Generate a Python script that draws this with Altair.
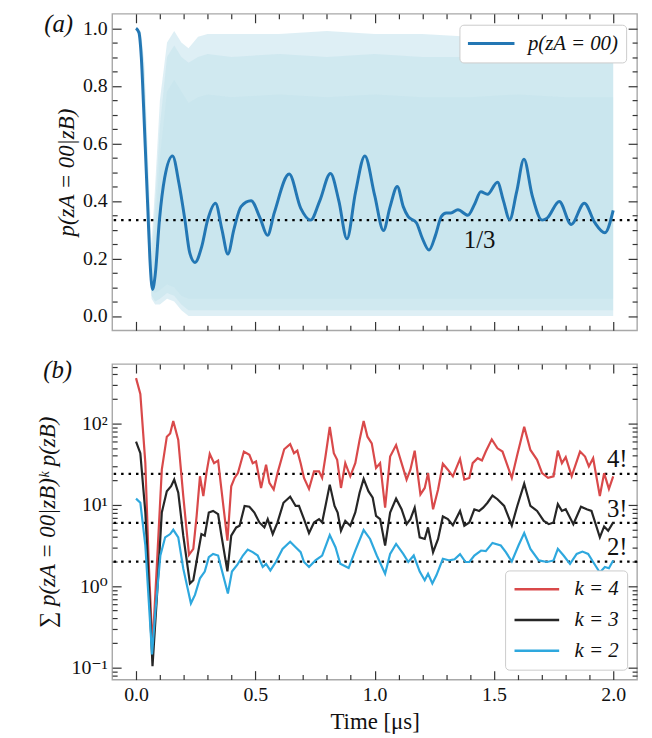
import altair as alt
import pandas as pd

FONT = "'Liberation Serif', 'DejaVu Serif', serif"
TICK = "#333333"

# ---------------- panel (a) ----------------
mean_t = [0.000, 0.012, 0.022, 0.032, 0.042, 0.050, 0.058, 0.069, 0.080, 0.098, 0.120, 0.153, 0.180, 0.205,
          0.225, 0.247, 0.275, 0.300, 0.333, 0.360, 0.385, 0.410, 0.440, 0.482, 0.520, 0.551, 0.580, 0.642,
          0.690, 0.732, 0.770, 0.815, 0.850, 0.884, 0.920, 0.959, 1.000, 1.037, 1.065, 1.095, 1.120, 1.140,
          1.175, 1.200, 1.228, 1.255, 1.280, 1.300, 1.320, 1.349, 1.391, 1.420, 1.445, 1.473, 1.515, 1.540,
          1.566, 1.595, 1.626, 1.660, 1.702, 1.723, 1.774, 1.824, 1.879, 1.923, 1.965, 2.000]
mean_p = [1.000, 0.985, 0.90, 0.72, 0.52, 0.36, 0.20, 0.092, 0.14, 0.333, 0.48, 0.556, 0.46, 0.333,
          0.22, 0.186, 0.24, 0.333, 0.392, 0.30, 0.215, 0.30, 0.38, 0.400, 0.34, 0.280, 0.36, 0.493,
          0.375, 0.333, 0.40, 0.495, 0.40, 0.268, 0.43, 0.556, 0.42, 0.297, 0.38, 0.450, 0.38, 0.346,
          0.324, 0.27, 0.229, 0.28, 0.346, 0.358, 0.358, 0.369, 0.350, 0.39, 0.432, 0.423, 0.465, 0.40,
          0.335, 0.43, 0.545, 0.42, 0.333, 0.340, 0.398, 0.318, 0.392, 0.324, 0.289, 0.367]

# envelopes of the individual trajectories (light-blue cloud), outer -> inner
band_t = [0.00, 0.02, 0.035, 0.05, 0.065, 0.08, 0.10, 0.13, 0.16, 0.19, 0.22, 0.26, 0.30, 0.40, 0.60,
          0.80, 1.00, 1.20, 1.40, 1.60, 1.80, 2.00]
outer_hi = [1.00, 0.99, 0.88, 0.55, 0.25, 0.45, 0.75, 0.95, 0.99, 0.95, 0.93, 0.97, 0.98, 0.98, 0.98,
            0.99, 0.98, 0.98, 0.97, 0.98, 0.98, 0.98]
outer_lo = [1.00, 0.96, 0.65, 0.25, 0.06, 0.04, 0.04, 0.06, 0.05, 0.02, 0.00, 0.00, 0.00, 0.00, 0.00,
            0.00, 0.00, 0.00, 0.00, 0.00, 0.00, 0.00]
mid_hi = [1.00, 0.985, 0.85, 0.50, 0.21, 0.38, 0.66, 0.90, 0.94, 0.90, 0.88, 0.90, 0.91, 0.90, 0.91,
          0.90, 0.91, 0.90, 0.90, 0.91, 0.90, 0.90]
mid_lo = [1.00, 0.965, 0.68, 0.28, 0.07, 0.05, 0.06, 0.08, 0.07, 0.04, 0.02, 0.02, 0.02, 0.02, 0.02,
          0.02, 0.02, 0.02, 0.02, 0.02, 0.02, 0.02]
inner_hi = [1.00, 0.98, 0.80, 0.42, 0.16, 0.30, 0.55, 0.78, 0.82, 0.78, 0.74, 0.76, 0.77, 0.76, 0.77,
            0.76, 0.77, 0.76, 0.76, 0.77, 0.76, 0.76]
inner_lo = [1.00, 0.97, 0.72, 0.32, 0.09, 0.08, 0.09, 0.11, 0.10, 0.07, 0.06, 0.06, 0.06, 0.06, 0.06,
            0.06, 0.06, 0.06, 0.06, 0.06, 0.06, 0.06]

uniform_level = [0.3333]
uniform_label = ["1/3"]
uniform_label_pos = [1.44, 0.264]

# ---------------- panel (b) ----------------
k4_t = [0.000, 0.018, 0.039, 0.053, 0.069, 0.088, 0.108, 0.129, 0.143, 0.156, 0.177, 0.198, 0.222, 0.240,
        0.254, 0.268, 0.282, 0.295, 0.309, 0.327, 0.344, 0.358, 0.383, 0.399, 0.413, 0.427, 0.452, 0.475,
        0.489, 0.503, 0.524, 0.545, 0.559, 0.577, 0.593, 0.621, 0.646, 0.662, 0.676, 0.690, 0.704, 0.725,
        0.746, 0.767, 0.780, 0.794, 0.812, 0.829, 0.843, 0.859, 0.877, 0.898, 0.919, 0.937, 0.954, 0.970,
        0.988, 1.006, 1.023, 1.044, 1.065, 1.090, 1.113, 1.134, 1.150, 1.168, 1.192, 1.210, 1.224, 1.245,
        1.266, 1.286, 1.307, 1.328, 1.358, 1.376, 1.397, 1.411, 1.432, 1.450, 1.466, 1.491, 1.515, 1.536,
        1.575, 1.598, 1.627, 1.653, 1.681, 1.702, 1.727, 1.750, 1.768, 1.785, 1.801, 1.826, 1.861, 1.882,
        1.898, 1.916, 1.944, 1.962, 1.982, 2.000]
k4_v = [361, 231, 32.5, 1.98, 0.174, 1.98, 27.0, 68.7, 75.3, 107, 62.5, 12.8, 2.43, 2.87,
        7.31, 22.4, 12.8, 24.5, 42.2, 32.5, 35.0, 15.4, 3.62, 16.9, 21.4, 24.5, 45.1, 41.1,
        32.5, 34.1, 16.1, 31.0, 18.6, 15.4, 24.5, 48.1, 55.8, 43.1, 46.3, 32.5, 21.4, 15.7,
        25.8, 25.8, 21.4, 39.2, 90.8, 43.1, 35.7, 16.1, 32.5, 22.4, 32.5, 62.5, 107, 68.7,
        56.9, 28.3, 32.5, 9.23, 39.2, 54.3, 32.5, 20.4, 27.0, 46.3, 13.4, 16.1, 24.5, 8.79,
        15.4, 31.9, 27.0, 22.4, 36.7, 20.4, 21.4, 32.5, 37.4, 35.0, 45.1, 63.7, 49.5, 45.1,
        21.4, 41.1, 90.8, 47.2, 35.7, 24.5, 21.4, 22.4, 46.3, 32.5, 38.5, 22.4, 45.1, 39.2,
        29.6, 37.4, 12.8, 24.5, 15.7, 22.4]

k3_t = [0.000, 0.018, 0.039, 0.056, 0.069, 0.088, 0.108, 0.129, 0.147, 0.160, 0.177, 0.198, 0.226, 0.240,
        0.258, 0.274, 0.288, 0.305, 0.323, 0.344, 0.358, 0.383, 0.399, 0.420, 0.434, 0.455, 0.475, 0.496,
        0.517, 0.538, 0.552, 0.573, 0.593, 0.618, 0.646, 0.669, 0.683, 0.704, 0.725, 0.746, 0.767, 0.780,
        0.794, 0.812, 0.832, 0.845, 0.859, 0.877, 0.898, 0.919, 0.937, 0.954, 0.974, 0.992, 1.006, 1.023,
        1.044, 1.065, 1.090, 1.113, 1.134, 1.150, 1.168, 1.189, 1.210, 1.224, 1.245, 1.266, 1.286, 1.307,
        1.328, 1.358, 1.376, 1.397, 1.418, 1.438, 1.455, 1.473, 1.494, 1.515, 1.543, 1.575, 1.598, 1.627,
        1.653, 1.681, 1.709, 1.730, 1.750, 1.768, 1.785, 1.801, 1.833, 1.865, 1.889, 1.909, 1.944, 1.962,
        1.979, 2.000]
k3_v = [59.7, 43.1, 8.04, 0.78, 0.104, 0.78, 8.04, 14.7, 16.9, 20.4, 14.1, 4.17, 1.08, 1.18,
        2.38, 4.37, 4.17, 8.04, 8.41, 7.66, 4.17, 1.52, 4.17, 5.27, 5.52, 9.68, 9.48, 8.04,
        6.07, 5.27, 6.67, 4.37, 6.07, 10.6, 12.6, 9.68, 9.68, 6.67, 4.49, 6.07, 6.67, 6.07,
        9.68, 17.7, 9.68, 8.04, 4.80, 6.35, 5.52, 8.04, 14.1, 20.8, 14.7, 12.2, 7.31, 6.67,
        3.16, 8.04, 11.9, 8.81, 5.78, 6.67, 9.23, 3.98, 3.80, 5.27, 2.61, 3.80, 7.18, 6.67,
        5.62, 8.41, 5.52, 6.07, 8.81, 8.41, 9.23, 10.6, 13.0, 11.7, 9.68, 5.57, 9.68, 18.2,
        9.68, 8.41, 6.35, 5.78, 6.07, 10.2, 8.41, 8.81, 5.78, 9.48, 8.81, 8.41, 3.98, 5.42,
        4.80, 6.07]

k2_t = [0.000, 0.018, 0.039, 0.056, 0.067, 0.081, 0.102, 0.122, 0.143, 0.156, 0.177, 0.198, 0.230, 0.247,
        0.268, 0.288, 0.305, 0.323, 0.344, 0.358, 0.385, 0.402, 0.424, 0.448, 0.468, 0.489, 0.510, 0.531,
        0.545, 0.563, 0.586, 0.614, 0.646, 0.669, 0.690, 0.704, 0.725, 0.752, 0.780, 0.812, 0.836, 0.856,
        0.891, 0.919, 0.954, 0.981, 1.009, 1.044, 1.065, 1.090, 1.120, 1.141, 1.164, 1.189, 1.210, 1.224,
        1.242, 1.259, 1.286, 1.314, 1.335, 1.358, 1.381, 1.397, 1.418, 1.446, 1.466, 1.494, 1.529, 1.550,
        1.575, 1.603, 1.627, 1.653, 1.688, 1.723, 1.750, 1.768, 1.792, 1.819, 1.847, 1.871, 1.895, 1.916,
        1.944, 1.965, 1.982, 2.000]
k2_v = [11.9, 10.6, 3.16, 0.49, 0.145, 0.49, 2.38, 3.98, 4.37, 4.93, 3.98, 1.64, 0.615, 0.78,
        1.25, 1.51, 2.27, 2.49, 2.38, 1.64, 0.81, 1.51, 1.82, 2.38, 2.82, 2.62, 2.38, 1.72,
        1.88, 1.56, 1.98, 2.87, 3.52, 3.01, 2.62, 1.98, 1.72, 2.07, 2.38, 4.25, 3.01, 1.88,
        1.67, 2.74, 4.89, 3.80, 2.38, 1.42, 2.49, 3.30, 2.49, 1.98, 2.38, 1.51, 1.18, 1.42,
        1.08, 1.36, 2.17, 2.07, 2.14, 2.47, 1.98, 1.98, 2.38, 2.74, 2.69, 3.40, 3.16, 2.62,
        2.01, 3.16, 4.50, 2.87, 2.07, 1.98, 2.07, 2.87, 2.38, 1.88, 2.49, 2.66, 2.49, 1.98,
        1.47, 1.72, 1.66, 2.07]

factorial_levels = [24, 6, 2]
factorial_labels = ["4!", "3!", "2!"]
factorial_label_t = 2.017
factorial_label_v = [36.4, 8.97, 3.01]

series_names = ["k = 4", "k = 3", "k = 2"]
series_colors = ["#d9494a", "#262626", "#2ea8de"]
panel_labels = ["(a)", "(b)"]

x_major = [0.0, 0.5, 1.0, 1.5, 2.0]
x_minor = [0.1, 0.2, 0.3, 0.4, 0.6, 0.7, 0.8, 0.9, 1.1, 1.2, 1.3, 1.4, 1.6, 1.7, 1.8, 1.9]
ya_major = [0.0, 0.2, 0.4, 0.6, 0.8, 1.0]
ya_minor = [0.05, 0.1, 0.15, 0.25, 0.3, 0.35, 0.45, 0.5, 0.55, 0.65, 0.7, 0.75, 0.85, 0.9, 0.95]
yb_major = [0.1, 1, 10, 100]
yb_minor = [0.08, 0.09, 0.2, 0.3, 0.4, 0.5, 0.6, 0.7, 0.8, 0.9, 2, 3, 4, 5, 6, 7, 8, 9,
            20, 30, 40, 50, 60, 70, 80, 90, 200, 300, 400, 500]

# ---------------- tables ----------------
band_df = pd.DataFrame({"t": band_t, "lo": outer_lo, "hi": outer_hi, "mlo": mid_lo, "mhi": mid_hi,
                        "ilo": inner_lo, "ihi": inner_hi})
mean_df = pd.DataFrame({"t": mean_t, "p": mean_p, "s": "p(zA = 00)"})
third_df = pd.DataFrame({"v": uniform_level})
third_lab = pd.DataFrame({"t": [uniform_label_pos[0]], "p": [uniform_label_pos[1]], "lab": uniform_label})
lines_df = pd.concat([
    pd.DataFrame({"t": k4_t, "v": k4_v, "k": series_names[0]}),
    pd.DataFrame({"t": k3_t, "v": k3_v, "k": series_names[1]}),
    pd.DataFrame({"t": k2_t, "v": k2_v, "k": series_names[2]}),
])
fact_df = pd.DataFrame({"v": factorial_levels})
fact_lab = pd.DataFrame({"t": [factorial_label_t] * 3, "v": factorial_label_v, "lab": factorial_labels})
pa_df = pd.DataFrame({"lab": [panel_labels[0]]})
pb_df = pd.DataFrame({"lab": [panel_labels[1]]})

xs = alt.Scale(domain=[-0.1, 2.1], nice=False, zero=False)
ya = alt.Scale(domain=[-0.05, 1.05], nice=False, zero=False)
yb = alt.Scale(type="log", domain=[0.071, 537], nice=False)


def axis(orient, values, major=True, labels=False, **kw):
    size = 9 if major else 5
    base = dict(orient=orient, values=values, tickSize=size, offset=-size, domain=False, grid=False,
                ticks=True, labels=labels, tickColor=TICK, tickWidth=1.2, labelFlush=False)
    if labels:
        base.update(labelPadding=5, labelFont=FONT, labelFontSize=20, labelColor="#111111")
    base.update(kw)
    return alt.Axis(**base)


W, HA, HB = 529, 319, 318
BAND = "#a9d6e5"

# ---------------- panel (a) chart ----------------
outer = alt.Chart(band_df).mark_area(color=BAND, opacity=0.38).encode(
    x=alt.X("t:Q", scale=xs, title=None, axis=axis("bottom", x_major)),
    y=alt.Y("lo:Q", scale=ya, title="p(zA = 00|zB)",
            axis=axis("left", ya_major, labels=True, format=".1f", titleFont=FONT, titleFontSize=23,
                      titleFontStyle="italic", titleFontWeight="normal", titleColor="#111111",
                      titlePadding=4)),
    y2="hi:Q",
)
middle = alt.Chart(band_df).mark_area(color=BAND, opacity=0.25).encode(
    x=alt.X("t:Q", scale=xs, title=None, axis=axis("bottom", x_minor, major=False)),
    y=alt.Y("mlo:Q", scale=ya, title=None, axis=axis("left", ya_minor, major=False)),
    y2="mhi:Q",
)
inner = alt.Chart(band_df).mark_area(color=BAND, opacity=0.15).encode(
    x=alt.X("t:Q", scale=xs, axis=None),
    y=alt.Y("ilo:Q", scale=ya, axis=None),
    y2="ihi:Q",
)
third = alt.Chart(third_df).mark_rule(color="black", strokeDash=[2.5, 5], strokeWidth=2.3).encode(
    y=alt.Y("v:Q", scale=ya, title=None, axis=axis("right", ya_minor, major=False)),
)
mean_line = alt.Chart(mean_df).mark_line(strokeWidth=3, interpolate="monotone").encode(
    x=alt.X("t:Q", scale=xs, title=None, axis=axis("top", x_major)),
    y=alt.Y("p:Q", scale=ya, title=None, axis=axis("right", ya_major)),
    color=alt.Color("s:N", scale=alt.Scale(domain=["p(zA = 00)"], range=["#2377b4"]),
                    legend=alt.Legend(title=None, orient="top-right", offset=11, fillColor="white",
                                      strokeColor="#cccccc", cornerRadius=4, padding=7,
                                      symbolType="stroke", symbolStrokeWidth=3, symbolSize=2200,
                                      clipHeight=24, labelFont=FONT, labelFontSize=21,
                                      labelFontStyle="italic", labelOffset=12, labelColor="#111111")),
)
third_text = alt.Chart(third_lab).mark_text(font=FONT, fontSize=25, color="#111111").encode(
    x=alt.X("t:Q", scale=xs, title=None, axis=axis("top", x_minor, major=False)),
    y=alt.Y("p:Q", scale=ya, axis=None),
    text="lab:N",
)
label_a = alt.Chart(pa_df).mark_text(font=FONT, fontSize=25, fontStyle="italic", color="#111111").encode(
    x=alt.value(-54), y=alt.value(10), text="lab:N"
)
top = alt.layer(outer, middle, inner, third, mean_line, third_text, label_a).resolve_axis(
    x="independent", y="independent"
).properties(width=W, height=HA)

# ---------------- panel (b) chart ----------------
log_expr = ("datum.value < 0.5 ? '10⁻¹' : datum.value < 5 ? '10⁰' : "
            "datum.value < 50 ? '10¹' : '10²'")
color_b = alt.Color("k:N", scale=alt.Scale(domain=series_names, range=series_colors),
                    legend=alt.Legend(title=None, orient="bottom-right", offset=10, fillColor="white",
                                      strokeColor="#cccccc", cornerRadius=4, padding=8,
                                      symbolType="stroke", symbolStrokeWidth=2.5, symbolSize=2025,
                                      clipHeight=22, rowPadding=9, labelFont=FONT, labelFontSize=21,
                                      labelFontStyle="italic", labelOffset=14, labelColor="#111111"))

rules_b = alt.Chart(fact_df).mark_rule(color="black", strokeDash=[2.5, 5], strokeWidth=2.3).encode(
    y=alt.Y("v:Q", scale=yb, title="∑ p(zA = 00|zB)ᵏ p(zB)",
            axis=axis("left", yb_major, labels=True, labelExpr=log_expr, titleFont=FONT,
                      titleFontSize=23, titleFontStyle="italic", titleFontWeight="normal",
                      titleColor="#111111", titlePadding=12)),
)
line4 = alt.Chart(lines_df).transform_filter(alt.datum.k == series_names[0]).mark_line(strokeWidth=2.2).encode(
    x=alt.X("t:Q", scale=xs, title="Time [μs]",
            axis=axis("bottom", x_major, labels=True, format=".1f", titleFont=FONT, titleFontSize=23,
                      titleFontWeight="normal", titleColor="#111111", titlePadding=6)),
    y=alt.Y("v:Q", scale=yb, title=None, axis=axis("right", yb_major)),
    color=color_b,
)
line3 = alt.Chart(lines_df).transform_filter(alt.datum.k == series_names[1]).mark_line(strokeWidth=2.2).encode(
    x=alt.X("t:Q", scale=xs, title=None, axis=axis("bottom", x_minor, major=False)),
    y=alt.Y("v:Q", scale=yb, title=None, axis=axis("left", yb_minor, major=False)),
    color=color_b,
)
line2 = alt.Chart(lines_df).transform_filter(alt.datum.k == series_names[2]).mark_line(strokeWidth=2.2).encode(
    x=alt.X("t:Q", scale=xs, title=None, axis=axis("top", x_major)),
    y=alt.Y("v:Q", scale=yb, title=None, axis=axis("right", yb_minor, major=False)),
    color=color_b,
)
fact_text = alt.Chart(fact_lab).mark_text(font=FONT, fontSize=25, color="#111111").encode(
    x=alt.X("t:Q", scale=xs, title=None, axis=axis("top", x_minor, major=False)),
    y=alt.Y("v:Q", scale=yb, axis=None),
    text="lab:N",
)
label_b = alt.Chart(pb_df).mark_text(font=FONT, fontSize=25, fontStyle="italic", color="#111111").encode(
    x=alt.value(-55), y=alt.value(6), text="lab:N"
)
bottom = alt.layer(rules_b, line4, line3, line2, fact_text, label_b).resolve_axis(
    x="independent", y="independent"
).properties(width=W, height=HB)

chart = alt.vconcat(top, bottom, spacing=25).resolve_scale(color="independent").properties(
    padding={"left": 27, "top": 0, "right": 5, "bottom": 0}
).configure_view(stroke="#a8a8a8", strokeWidth=1.4)

chart.save("out.html", embed_options={"renderer": "svg", "actions": False})
